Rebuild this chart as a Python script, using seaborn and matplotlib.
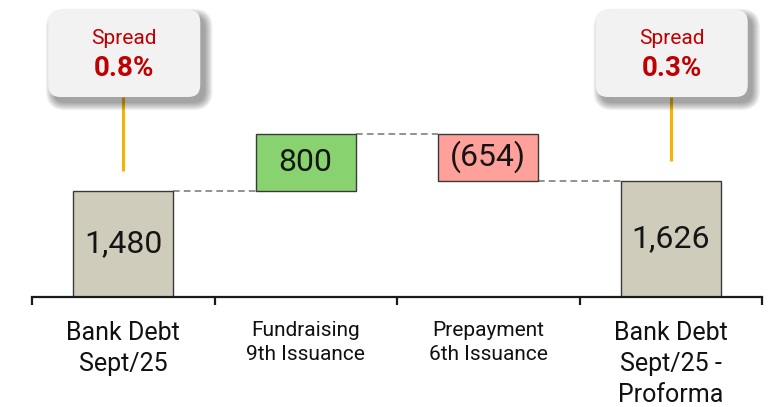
import matplotlib
matplotlib.use("Agg")
import matplotlib.pyplot as plt
import seaborn as sns
import pandas as pd
from matplotlib.patches import FancyBboxPatch

# Waterfall steps
categories = ["Bank Debt\nSept/25", "Fundraising\n9th Issuance",
              "Prepayment\n6th Issuance", "Bank Debt\nSept/25 -\nProforma"]
changes = [1480, 800, -654, 1626]
kinds = ["total", "delta", "delta", "total"]
value_labels = ["1,480", "800", "(654)", "1,626"]
bar_colors = ["#CFCCBC", "#88D370", "#FFA19A", "#CFCCBC"]

# Spread callouts above the total bars
spread_positions = [0, 3]
spread_labels = ["0.8%", "0.3%"]

# Floating-bar geometry derived from the changes
bottoms, heights, levels = [], [], []
running = 0
for v, k in zip(changes, kinds):
    if k == "total":
        bottoms.append(0)
        heights.append(v)
        running = v
    else:
        new = running + v
        bottoms.append(min(running, new))
        heights.append(abs(v))
        running = new
    levels.append(running)
tops = [b + h for b, h in zip(bottoms, heights)]

sns.set_theme(style="white")
plt.rcParams["font.family"] = ["Roboto", "DejaVu Sans"]

W, H = 781, 407
fig = plt.figure(figsize=(W / 100, H / 100), dpi=100)
ax = fig.add_axes([32 / W, 110 / H, 730 / W, 297 / H])

YMAX = 4147
px_x = 4.0 / 730          # data units per pixel, x
px_y = YMAX / 297         # data units per pixel, y

df = pd.DataFrame({"step": categories, "height": heights})
sns.barplot(data=df, x="step", y="height", hue="step", palette=bar_colors,
            legend=False, width=0.55, saturation=1, edgecolor="#3a3a3a",
            linewidth=1.0, ax=ax, zorder=3)
ax.set_xlim(-0.5, 3.5)
ax.set_ylim(0, YMAX)
bars = list(ax.patches)
for patch, b in zip(bars, bottoms):
    patch.set_y(b)

# Values inside the bars
for i, (b, h, lab) in enumerate(zip(bottoms, heights, value_labels)):
    ax.text(i, b + h / 2, lab, ha="center", va="center", fontsize=23,
            color="#151515", zorder=5)

# Dashed connectors between consecutive bars
half = 0.55 / 2
for i in range(len(categories) - 1):
    ax.plot([i + half, i + 1 - half], [levels[i], levels[i]],
            ls=(0, (4, 2.5)), color="#7f7f7f", lw=1.2, zorder=2)

# Axis line and category separators
for s in ["left", "right", "top"]:
    ax.spines[s].set_visible(False)
ax.spines["bottom"].set_color("#1a1a1a")
ax.spines["bottom"].set_linewidth(1.6)
ax.spines["bottom"].set_zorder(4)
ax.set_yticks([])
ax.set_ylabel("")
ax.set_xlabel("")
ax.set_xticks(range(len(categories)))
ax.set_xticklabels(categories)
ax.set_xticks([i - 0.5 for i in range(len(categories) + 1)], minor=True)
ax.tick_params(axis="x", which="both", bottom=True)
ax.tick_params(axis="x", which="major", length=0, pad=17)
ax.tick_params(axis="x", which="minor", length=6, width=1.6,
               color="#1a1a1a", direction="out")
for lab, k in zip(ax.get_xticklabels(), kinds):
    lab.set_color("#111111")
    if k == "total":
        lab.set_fontsize(18)
        lab.set_linespacing(1.38)
    else:
        lab.set_fontsize(15)
        lab.set_linespacing(1.38)

# Spread callouts with soft shadow and leader line
box_w = 152 * px_x
box_h = 87 * px_y
r = 12 * px_x
aspect = px_y / px_x
box_bottom = YMAX - 97 * px_y
for pos, sp in zip(spread_positions, spread_labels):
    x0 = pos - box_w / 2 + 1 * px_x
    ax.plot([pos, pos], [tops[pos] + 20 * px_y, box_bottom],
            color="#F5B400", lw=2.2, zorder=6, solid_capstyle="butt")
    for j in range(7):
        grow = j * 1.2
        sh = FancyBboxPatch(
            (x0 + 5 * px_x - grow * px_x, box_bottom - 6 * px_y - grow * px_y),
            box_w + 2 * grow * px_x, box_h + 2 * grow * px_y,
            boxstyle=f"round,pad=0,rounding_size={r + grow * px_x}",
            mutation_aspect=aspect, facecolor="#000000", edgecolor="none",
            alpha=0.06, zorder=7, clip_on=False)
        ax.add_patch(sh)
    box = FancyBboxPatch((x0, box_bottom), box_w, box_h,
                         boxstyle=f"round,pad=0,rounding_size={r}",
                         mutation_aspect=aspect, facecolor="#F2F2F2",
                         edgecolor="none", zorder=8, clip_on=False)
    ax.add_patch(box)
    ax.text(pos + 1 * px_x, YMAX - 38 * px_y, "Spread", ha="center",
            va="center", fontsize=15, color="#C00000", zorder=9)
    ax.text(pos + 1 * px_x, YMAX - 68 * px_y, sp, ha="center",
            va="center", fontsize=20, fontweight="bold", color="#C00000",
            zorder=9)

fig.savefig("out.png", dpi=100)
